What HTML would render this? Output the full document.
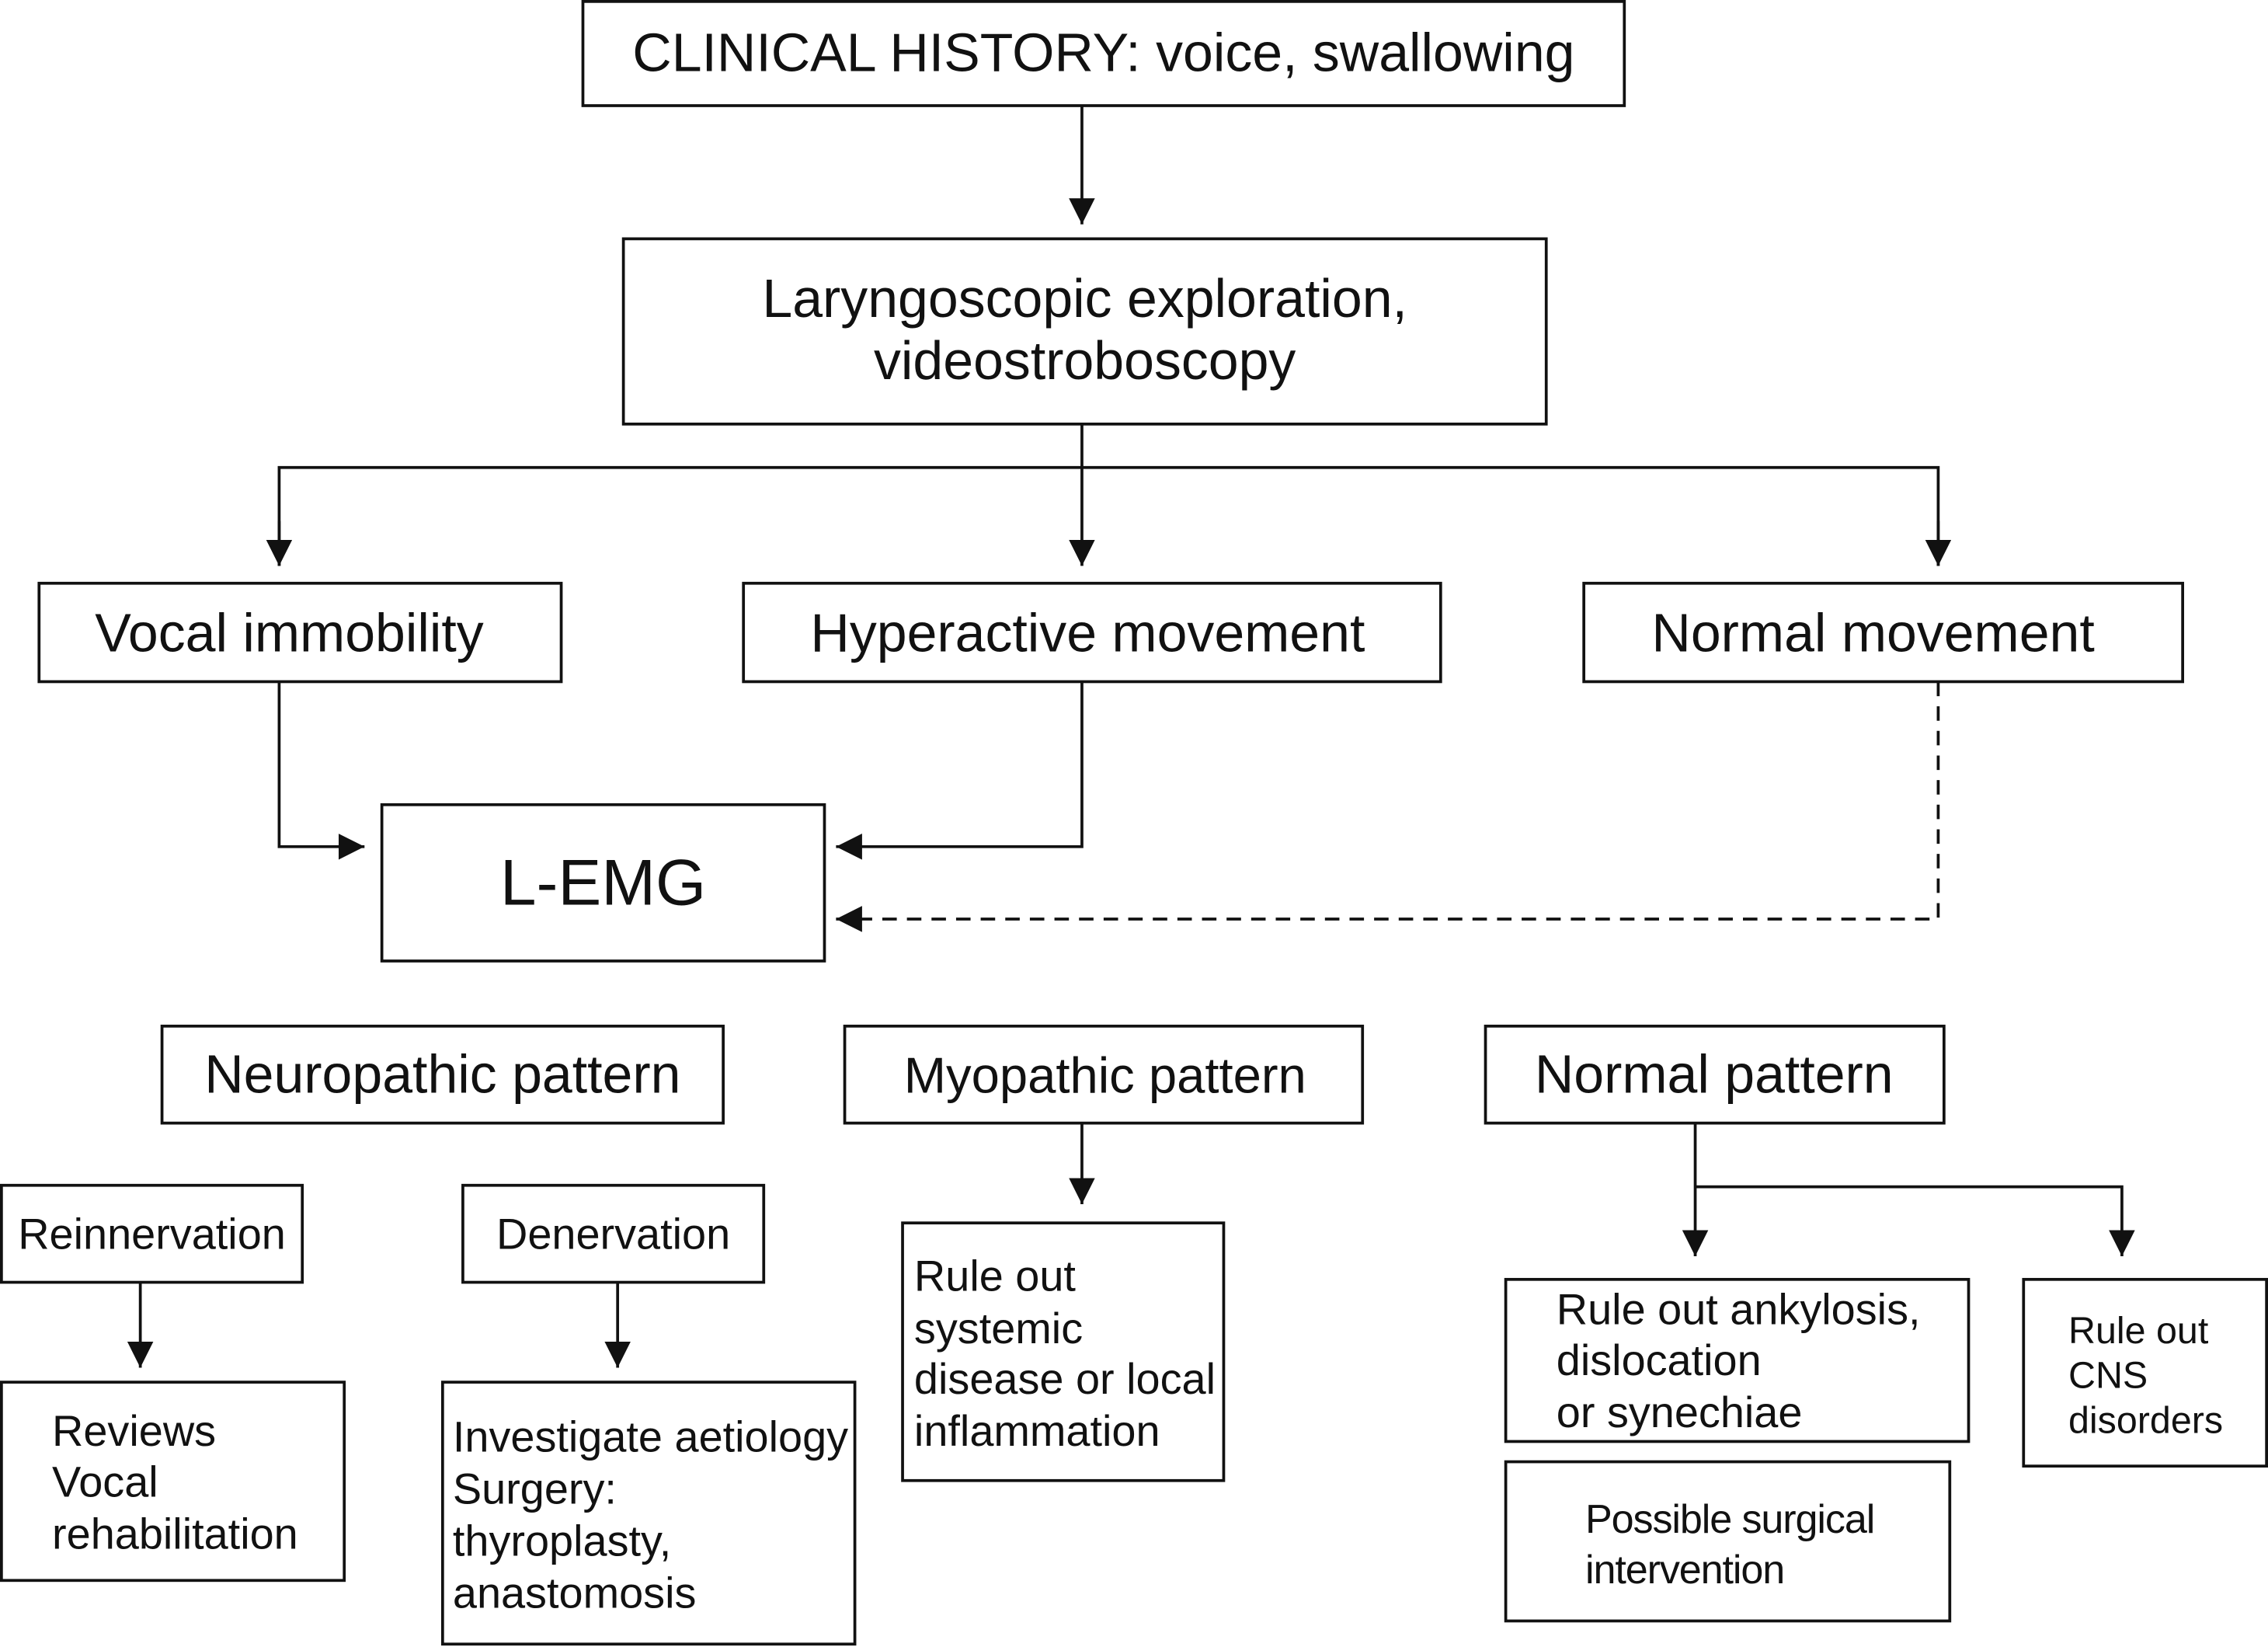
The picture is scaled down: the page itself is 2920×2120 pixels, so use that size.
<!DOCTYPE html>
<html><head><meta charset="utf-8"><style>
html,body{margin:0;padding:0;background:#fff;}
svg{display:block;}
text{font-family:"Liberation Sans",Arial,sans-serif;fill:#111;}
</style></head><body>
<svg width="2920" height="2120" viewBox="0 0 1568 1138" preserveAspectRatio="none" xmlns="http://www.w3.org/2000/svg">
<defs>
<marker id="a" viewBox="0 0 10 10" refX="10" refY="5" markerWidth="18" markerHeight="18" markerUnits="userSpaceOnUse" orient="auto">
<path d="M0,0 L10,5 L0,10 z" fill="#111"/></marker>
</defs>
<g fill="none" stroke="#111" stroke-width="2">
<rect x="403" y="1" width="720" height="72"/>
<rect x="431" y="165" width="638" height="128"/>
<rect x="27" y="403" width="361" height="68"/>
<rect x="514" y="403" width="482" height="68"/>
<rect x="1095" y="403" width="414" height="68"/>
<rect x="264" y="556" width="306" height="108"/>
<rect x="112" y="709" width="388" height="67"/>
<rect x="584" y="709" width="358" height="67"/>
<rect x="1027" y="709" width="317" height="67"/>
<rect x="1" y="819" width="208" height="67"/>
<rect x="320" y="819" width="208" height="67"/>
<rect x="1" y="955" width="237" height="137"/>
<rect x="306" y="955" width="285" height="181"/>
<rect x="624" y="845" width="222" height="178"/>
<rect x="1041" y="884" width="320" height="112"/>
<rect x="1041" y="1010" width="307" height="110"/>
<rect x="1399" y="884" width="168" height="129"/>

<line x1="748" y1="73" x2="748" y2="155" marker-end="url(#a)"/>
<line x1="748" y1="293" x2="748" y2="391" marker-end="url(#a)"/>
<polyline points="193,391 193,323 1340,323 1340,391" />
<line x1="193" y1="360" x2="193" y2="391" marker-end="url(#a)"/>
<line x1="1340" y1="360" x2="1340" y2="391" marker-end="url(#a)"/>
<polyline points="193,471 193,585 252,585" marker-end="url(#a)"/>
<polyline points="748,471 748,585 578,585" marker-end="url(#a)"/>
<polyline points="1340,471 1340,635 578,635" stroke-dasharray="10,7" marker-end="url(#a)"/>
<line x1="748" y1="776" x2="748" y2="832" marker-end="url(#a)"/>
<line x1="97" y1="886" x2="97" y2="945" marker-end="url(#a)"/>
<line x1="427" y1="886" x2="427" y2="945" marker-end="url(#a)"/>
<polyline points="1172,776 1172,868" marker-end="url(#a)"/>
<polyline points="1172,820 1467,820 1467,868" marker-end="url(#a)"/>
</g>
<g font-size="37.5" text-anchor="middle">
<text x="763" y="49">CLINICAL HISTORY: voice, swallowing</text>
<text x="750" y="219">Laryngoscopic exploration,</text>
<text x="750" y="262">videostroboscopy</text>
<text x="200" y="450">Vocal immobility</text>
<text x="752" y="450">Hyperactive movement</text>
<text x="1295" y="450">Normal movement</text>
<text x="417" y="625" font-size="45">L-EMG</text>
<text x="306" y="755">Neuropathic pattern</text>
<text x="764" y="755" font-size="35">Myopathic pattern</text>
<text x="1185" y="755">Normal pattern</text>
</g>
<g font-size="30">
<text x="105" y="863" text-anchor="middle">Reinnervation</text>
<text x="424" y="863" text-anchor="middle">Denervation</text>
<text x="36" y="999">Reviews</text>
<text x="36" y="1034">Vocal</text>
<text x="36" y="1070">rehabilitation</text>
<text x="313" y="1003">Investigate aetiology</text>
<text x="313" y="1039">Surgery:</text>
<text x="313" y="1075">thyroplasty,</text>
<text x="313" y="1111">anastomosis</text>
<text x="632" y="892">Rule out</text>
<text x="632" y="928">systemic</text>
<text x="632" y="963">disease or local</text>
<text x="632" y="999">inflammation</text>
<text x="1076" y="915">Rule out ankylosis,</text>
<text x="1076" y="950">dislocation</text>
<text x="1076" y="986">or synechiae</text>
<text x="1096" y="1059" font-size="28" letter-spacing="-0.6">Possible surgical</text>
<text x="1096" y="1094" font-size="28" letter-spacing="-0.6">intervention</text>
<text x="1430" y="928" font-size="26">Rule out</text>
<text x="1430" y="959" font-size="26">CNS</text>
<text x="1430" y="990" font-size="26">disorders</text>
</g>
</svg>
</body></html>
